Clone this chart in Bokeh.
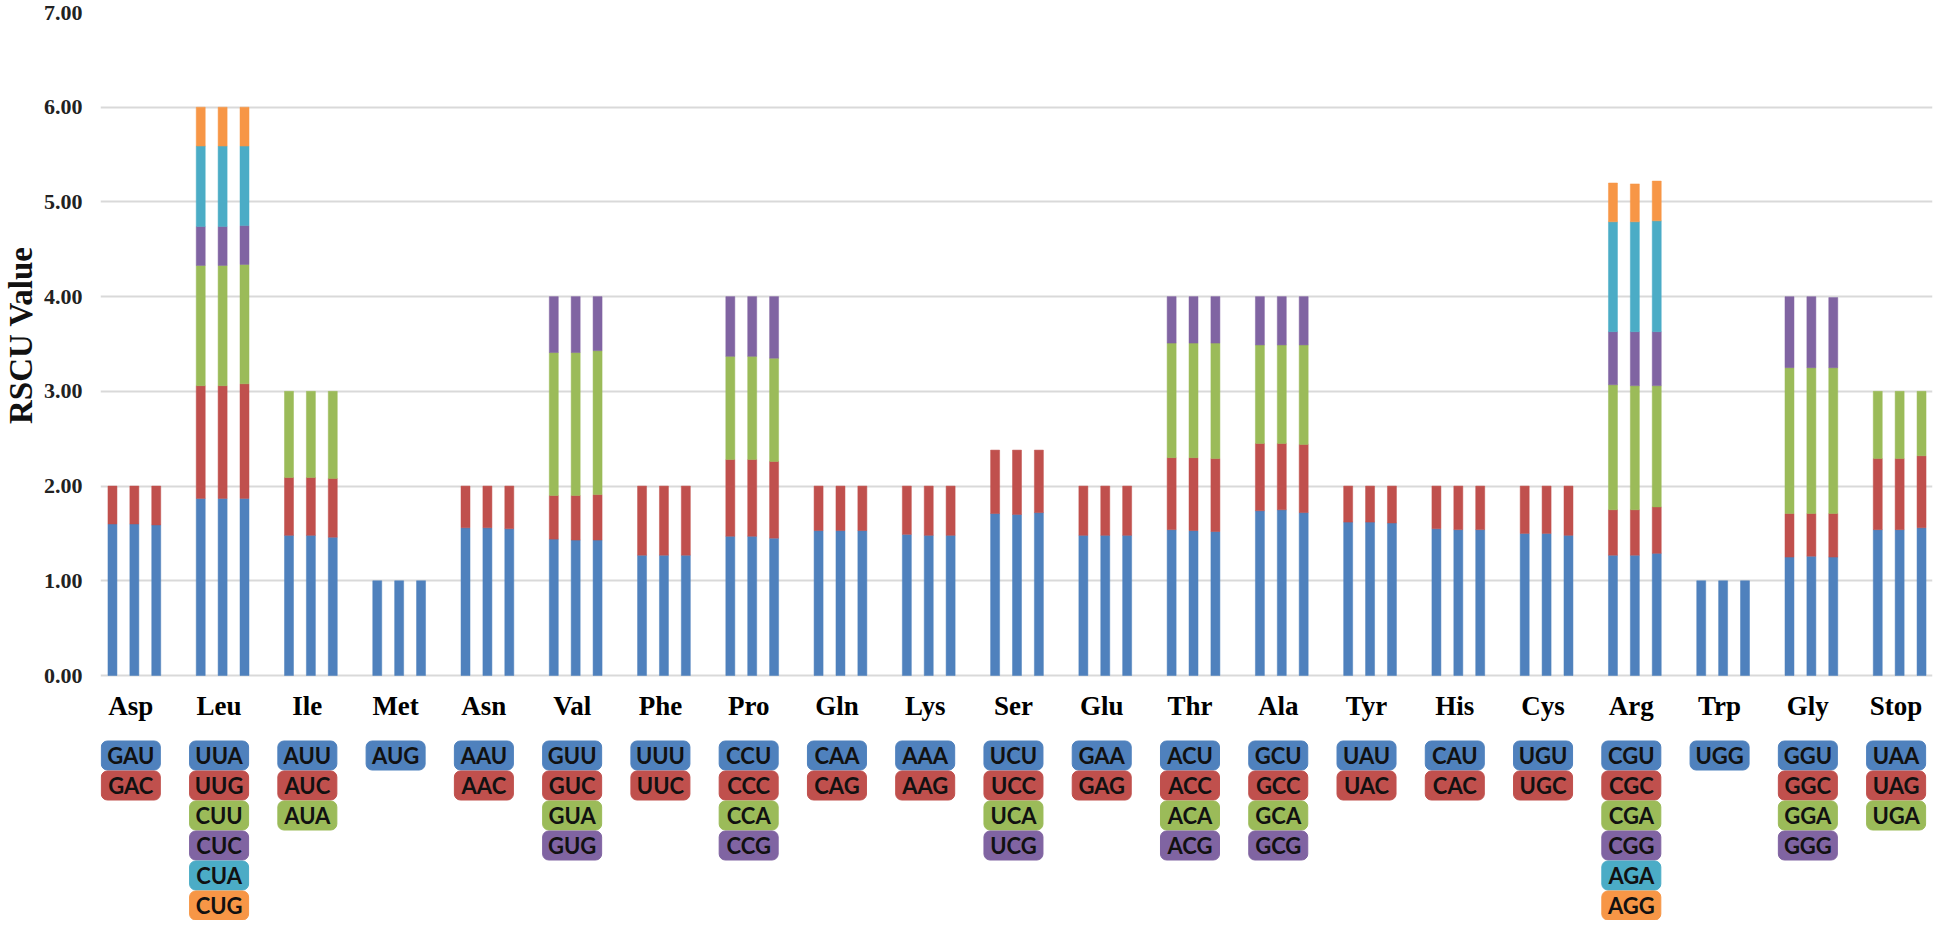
import math
from bokeh.plotting import figure
from bokeh.layouts import row
from bokeh.models import Range1d, FixedTicker, NumeralTickFormatter, ColumnDataSource
from bokeh.core.properties import value
from bokeh.embed import file_html
from bokeh.resources import INLINE

# ---------------- data ----------------
amino_acids = ["Asp", "Leu", "Ile", "Met", "Asn", "Val", "Phe", "Pro", "Gln", "Lys", "Ser",
               "Glu", "Thr", "Ala", "Tyr", "His", "Cys", "Arg", "Trp", "Gly", "Stop"]

codons = [
    ["GAU", "GAC"],
    ["UUA", "UUG", "CUU", "CUC", "CUA", "CUG"],
    ["AUU", "AUC", "AUA"],
    ["AUG"],
    ["AAU", "AAC"],
    ["GUU", "GUC", "GUA", "GUG"],
    ["UUU", "UUC"],
    ["CCU", "CCC", "CCA", "CCG"],
    ["CAA", "CAG"],
    ["AAA", "AAG"],
    ["UCU", "UCC", "UCA", "UCG"],
    ["GAA", "GAG"],
    ["ACU", "ACC", "ACA", "ACG"],
    ["GCU", "GCC", "GCA", "GCG"],
    ["UAU", "UAC"],
    ["CAU", "CAC"],
    ["UGU", "UGC"],
    ["CGU", "CGC", "CGA", "CGG", "AGA", "AGG"],
    ["UGG"],
    ["GGU", "GGC", "GGA", "GGG"],
    ["UAA", "UAG", "UGA"],
]

# RSCU of the 1st..6th codon of each amino acid, for the three bars (samples)
codon_1 = [[1.60, 1.60, 1.59], [1.87, 1.87, 1.87], [1.48, 1.48, 1.46], [1.00, 1.00, 1.00],
           [1.56, 1.56, 1.55], [1.44, 1.43, 1.43], [1.27, 1.27, 1.27], [1.47, 1.47, 1.45],
           [1.53, 1.53, 1.53], [1.49, 1.48, 1.48], [1.71, 1.70, 1.72], [1.48, 1.48, 1.48],
           [1.54, 1.53, 1.52], [1.74, 1.75, 1.72], [1.62, 1.62, 1.61], [1.55, 1.54, 1.54],
           [1.50, 1.50, 1.48], [1.27, 1.27, 1.29], [1.00, 1.00, 1.00], [1.25, 1.26, 1.25],
           [1.54, 1.54, 1.56]]
codon_2 = [[0.40, 0.40, 0.41], [1.19, 1.19, 1.21], [0.61, 0.61, 0.62], [0, 0, 0],
           [0.44, 0.44, 0.45], [0.46, 0.47, 0.48], [0.73, 0.73, 0.73], [0.81, 0.81, 0.81],
           [0.47, 0.47, 0.47], [0.51, 0.52, 0.52], [0.67, 0.68, 0.66], [0.52, 0.52, 0.52],
           [0.76, 0.77, 0.77], [0.71, 0.70, 0.72], [0.38, 0.38, 0.39], [0.45, 0.46, 0.46],
           [0.50, 0.50, 0.52], [0.48, 0.48, 0.49], [0, 0, 0], [0.46, 0.45, 0.46],
           [0.75, 0.75, 0.76]]
codon_3 = [[0, 0, 0], [1.27, 1.27, 1.26], [0.91, 0.91, 0.92], [0, 0, 0],
           [0, 0, 0], [1.51, 1.51, 1.52], [0, 0, 0], [1.09, 1.09, 1.09],
           [0, 0, 0], [0, 0, 0], [0, 0, 0], [0, 0, 0],
           [1.21, 1.21, 1.22], [1.04, 1.04, 1.05], [0, 0, 0], [0, 0, 0],
           [0, 0, 0], [1.32, 1.31, 1.28], [0, 0, 0], [1.54, 1.54, 1.54],
           [0.71, 0.71, 0.68]]
codon_4 = [[0, 0, 0], [0.41, 0.41, 0.41], [0, 0, 0], [0, 0, 0],
           [0, 0, 0], [0.59, 0.59, 0.57], [0, 0, 0], [0.63, 0.63, 0.65],
           [0, 0, 0], [0, 0, 0], [0, 0, 0], [0, 0, 0],
           [0.49, 0.49, 0.49], [0.51, 0.51, 0.51], [0, 0, 0], [0, 0, 0],
           [0, 0, 0], [0.56, 0.57, 0.57], [0, 0, 0], [0.75, 0.75, 0.74],
           [0, 0, 0]]
codon_5 = [[0, 0, 0], [0.85, 0.85, 0.84], [0, 0, 0], [0, 0, 0],
           [0, 0, 0], [0, 0, 0], [0, 0, 0], [0, 0, 0],
           [0, 0, 0], [0, 0, 0], [0, 0, 0], [0, 0, 0],
           [0, 0, 0], [0, 0, 0], [0, 0, 0], [0, 0, 0],
           [0, 0, 0], [1.16, 1.16, 1.17], [0, 0, 0], [0, 0, 0],
           [0, 0, 0]]
codon_6 = [[0, 0, 0], [0.41, 0.41, 0.41], [0, 0, 0], [0, 0, 0],
           [0, 0, 0], [0, 0, 0], [0, 0, 0], [0, 0, 0],
           [0, 0, 0], [0, 0, 0], [0, 0, 0], [0, 0, 0],
           [0, 0, 0], [0, 0, 0], [0, 0, 0], [0, 0, 0],
           [0, 0, 0], [0.41, 0.40, 0.42], [0, 0, 0], [0, 0, 0],
           [0, 0, 0]]

y_ticks = [0, 1, 2, 3, 4, 5, 6, 7]
y_title = "RSCU Value"
colors = ["#4F81BD", "#C0504D", "#9BBB59", "#8064A2", "#4BACC6", "#F79646"]

# ---------------- layout constants ----------------
H = 920
LW = 40                     # width of the strip holding the y-axis title
W = 1934 - LW
LEFT, RIGHT, TOP = 52, 2, 12
ZERO = 675                  # canvas y of the 0 line
px_per_cat = 88.65
x_start = -34.0 / px_per_cat
x_end = x_start + (W - LEFT - RIGHT) / px_per_cat
px_per_unit = (ZERO - TOP) / 7.0
y_end = 7.0
y_start = -(H - ZERO) / px_per_unit

bar_offsets = [-0.248, 0.0, 0.248]
bar_width = 0.102
label_shift = -0.04

# ---------------- y title strip ----------------
lab = figure(width=LW, height=H, output_backend="svg", toolbar_location=None,
             x_range=Range1d(0, LW), y_range=Range1d(0, H),
             x_axis_location=None, y_axis_location=None,
             min_border=0, min_border_left=0, min_border_right=0,
             min_border_top=0, min_border_bottom=0)
lab.outline_line_color = None
lab.xgrid.visible = False
lab.ygrid.visible = False
lab.text(x=[20], y=[H - 327], text=[y_title], angle=math.pi / 2,
         text_align="center", text_baseline="middle",
         text_font=value("Liberation Serif"), text_font_style="bold",
         text_font_size="33px", text_color="#111111")

# ---------------- main chart ----------------
p = figure(width=W, height=H, output_backend="svg", toolbar_location=None,
           x_range=Range1d(x_start, x_end), y_range=Range1d(y_start, y_end),
           x_axis_location=None, min_border_left=LEFT, min_border_right=RIGHT,
           min_border_top=TOP, min_border_bottom=0)
p.outline_line_color = None
p.background_fill_color = "white"
p.border_fill_color = "white"
p.xgrid.grid_line_color = None
p.ygrid.ticker = FixedTicker(ticks=y_ticks)
p.ygrid.grid_line_color = "#D9D9D9"
p.ygrid.grid_line_width = 2

ax = p.yaxis[0]
ax.ticker = FixedTicker(ticks=y_ticks)
ax.formatter = NumeralTickFormatter(format="0.00")
ax.axis_line_color = None
ax.major_tick_line_color = None
ax.minor_tick_line_color = None
ax.major_label_text_font = "Liberation Serif"
ax.major_label_text_font_style = "bold"
ax.major_label_text_font_size = "22px"
ax.major_label_text_color = "#222222"
ax.major_label_standoff = 12

# stacked bars
levels = [codon_1, codon_2, codon_3, codon_4, codon_5, codon_6]
bx, bb, bt, bc = [], [], [], []
for i in range(len(amino_acids)):
    for k in range(3):
        base = 0.0
        for lev, arr in enumerate(levels):
            v = arr[i][k]
            if v > 0:
                bx.append(i + bar_offsets[k])
                bb.append(base)
                bt.append(base + v)
                bc.append(colors[lev])
                base += v
bars = ColumnDataSource(dict(x=bx, bottom=bb, top=bt, color=bc))
p.vbar(x="x", bottom="bottom", top="top", width=bar_width, source=bars,
       fill_color="color", line_color="color", line_width=0.5)

# amino acid labels
aa_y = -30.0 / px_per_unit
aa_src = ColumnDataSource(dict(x=[i + label_shift for i in range(len(amino_acids))],
                               y=[aa_y] * len(amino_acids), t=amino_acids))
p.text(x="x", y="y", text="t", source=aa_src, text_align="center", text_baseline="middle",
       text_font=value("Liberation Serif"), text_font_style="bold",
       text_font_size="27px", text_color="#000000")

# codon boxes
box_y0 = -80.0 / px_per_unit
box_step = 30.0 / px_per_unit
cx, cy, ct, cc = [], [], [], []
for i, cods in enumerate(codons):
    for j, c in enumerate(cods):
        cx.append(i + label_shift)
        cy.append(box_y0 - j * box_step)
        ct.append(c)
        cc.append(colors[j])
box_src = ColumnDataSource(dict(x=cx, y=cy, t=ct, color=cc))
p.rect(x="x", y="y", width=59, height=29, width_units="screen", height_units="screen",
       source=box_src, fill_color="color", line_color="color", border_radius=6)
p.text(x="x", y="y", text="t", source=box_src, text_align="center", text_baseline="middle",
       text_font=value("Lato"), text_font_style="bold", text_font_size="22px",
       text_color="#111111")

open("out.html", "w").write(file_html(row(lab, p), INLINE))
